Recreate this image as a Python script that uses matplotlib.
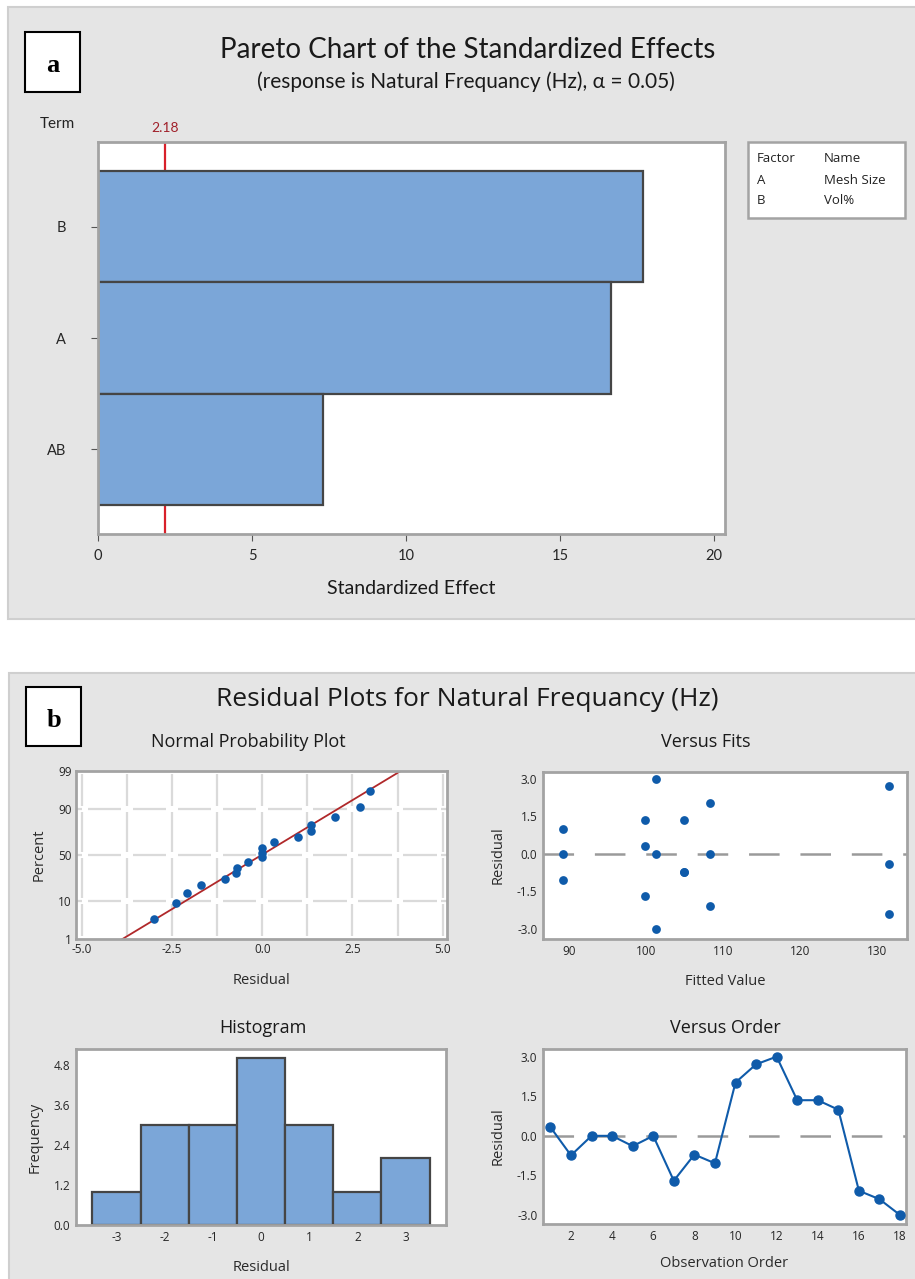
import numpy as np
import matplotlib
matplotlib.use("Agg")
import matplotlib.pyplot as plt
from matplotlib.patches import Rectangle
from statistics import NormalDist

plt.rcParams["lines.scale_dashes"] = False
plt.rcParams["axes.unicode_minus"] = False

W, H = 915, 1279

# ---- Pareto chart data ----
terms = ["B", "A", "AB"]
std_effects = [17.7, 16.65, 7.3]
t_crit = 2.18
factor_codes = ["A", "B"]
factor_names = ["Mesh Size", "Vol%"]
pareto_ticks = [0, 5, 10, 15, 20]

# ---- Residual data (by observation order) ----
observation = list(range(1, 19))
residuals = [0.33, -0.74, 0.0, 0.0, -0.39, 0.0, -1.70, -0.71, -1.04,
             2.02, 2.71, 3.0, 1.35, 1.35, 0.99, -2.08, -2.40, -3.0]
fitted = [99.9, 105.0, 89.3, 101.3, 131.6, 108.4, 99.9, 105.0, 89.3,
          108.4, 131.6, 101.3, 99.9, 105.0, 89.3, 108.4, 131.6, 101.3]
prob_ticks = [1, 10, 50, 90, 99]
prob_xticks = [-5.0, -2.5, 0.0, 2.5, 5.0]
resid_ticks = [-3.0, -1.5, 0.0, 1.5, 3.0]
fit_ticks = [90, 100, 110, 120, 130]
hist_edges = [-3.5, -2.5, -1.5, -0.5, 0.5, 1.5, 2.5, 3.5]
hist_xticks = [-3, -2, -1, 0, 1, 2, 3]
hist_yticks = [0.0, 1.2, 2.4, 3.6, 4.8]
order_ticks = [2, 4, 6, 8, 10, 12, 14, 16, 18]

BAR = "#7BA6D8"
EDGE = "#454545"
FRAME = "#A3A3A3"
PANEL = "#E5E5E5"
BLUE = "#0F5BAA"
TXT = "#2A2A2A"
FONT = "Open Sans"
NARROW = "Lato"

fig = plt.figure(figsize=(W / 100, H / 100), dpi=100)
fig.patch.set_facecolor("white")


def axes_px(x0, y0, x1, y1):
    ax = fig.add_axes([x0 / W, 1 - y1 / H, (x1 - x0) / W, (y1 - y0) / H])
    ax.set_zorder(2)
    return ax


def text_px(x, y, s, **kw):
    kw.setdefault("color", TXT)
    kw.setdefault("zorder", 5)
    return fig.text(x / W, 1 - y / H, s, **kw)


def rect_px(x0, y0, x1, y1, **kw):
    r = Rectangle((x0 / W, 1 - y1 / H), (x1 - x0) / W, (y1 - y0) / H,
                  transform=fig.transFigure, **kw)
    fig.patches.append(r)
    return r


def style_axes(ax, lw=2.0):
    for s in ax.spines.values():
        s.set_color(FRAME)
        s.set_linewidth(lw)
    ax.set_facecolor("white")
    ax.tick_params(colors="#555555", labelcolor="#262626", length=3,
                   width=0.8, labelsize=8.5)
    for lab in ax.get_xticklabels() + ax.get_yticklabels():
        lab.set_fontfamily(FONT)


# ---- background panels ----
rect_px(8, 7, 930, 619, facecolor=PANEL, edgecolor="#CFCFCF", lw=1.5, zorder=-10)
rect_px(9, 673, 930, 1300, facecolor=PANEL, edgecolor="#CFCFCF", lw=1.5, zorder=-10)

# panel letters
for (x0, y0, x1, y1, s) in [(25, 32, 80, 92, "a"), (26, 687, 81, 746, "b")]:
    rect_px(x0, y0, x1, y1, facecolor="white", edgecolor="black", lw=1.5, zorder=4)
    text_px((x0 + x1) / 2, (y0 + y1) / 2 + 4, s, ha="center", va="center",
            fontsize=19, fontweight="bold", family="Liberation Serif",
            color="black", zorder=6)

# ================= Pareto chart =================
text_px(468, 50, "Pareto Chart of the Standardized Effects", ha="center",
        va="center", fontsize=20, family=NARROW, color="#1A1A1A")
text_px(466, 82, "(response is Natural Frequancy (Hz), \u03b1 = 0.05)",
        ha="center", va="center", fontsize=15, family=NARROW, color="#1A1A1A")
text_px(57, 124, "Term", ha="center", va="center", fontsize=11,
        family=NARROW, color="#222222")

axp = axes_px(98, 142, 725, 534)
ypos = np.arange(len(terms))[::-1]
axp.barh(ypos, std_effects, height=1.0, color=BAR, edgecolor=EDGE,
         linewidth=1.6, zorder=2)
axp.axvline(t_crit, color="#D8202A", lw=1.6, zorder=1)
axp.annotate(f"{t_crit:.2f}", xy=(t_crit, 1.0),
             xycoords=("data", "axes fraction"), xytext=(0, 6),
             textcoords="offset points", ha="center", va="bottom",
             fontsize=10, color="#A0202A", family=NARROW)
axp.set_xlim(0, 20.36)
axp.set_ylim(-0.76, 2.76)
axp.set_xticks(pareto_ticks)
axp.set_yticks(ypos)
axp.set_yticklabels(terms)
style_axes(axp)
axp.tick_params(axis="both", labelsize=10.5, length=5, pad=6)
axp.tick_params(axis="y", pad=18)
for lab in axp.get_xticklabels() + axp.get_yticklabels():
    lab.set_fontfamily(NARROW)
axp.set_xlabel("Standardized Effect", fontsize=14, family=NARROW,
               color="#1A1A1A", labelpad=12)

# factor legend
rect_px(748, 142, 905, 218, facecolor="white", edgecolor=FRAME, lw=1.8, zorder=4)
leg_kw = dict(ha="left", va="center", fontsize=9.5, family=FONT,
              color="#222222", zorder=6)
text_px(757, 158, "Factor", **leg_kw)
text_px(824, 158, "Name", **leg_kw)
for i, (c, n) in enumerate(zip(factor_codes, factor_names)):
    yy = 180 + 21 * i
    text_px(757, yy, c, **leg_kw)
    text_px(824, yy, n, **leg_kw)

# ================= Residual plots =================
text_px(467, 700, "Residual Plots for Natural Frequancy (Hz)", ha="center",
        va="center", fontsize=19, family=FONT, color="#1A1A1A")

sub_title_kw = dict(ha="center", va="center", fontsize=13, family=FONT,
                    color="#1A1A1A")
text_px(248, 742, "Normal Probability Plot", **sub_title_kw)
text_px(706, 742, "Versus Fits", **sub_title_kw)
text_px(263, 1028, "Histogram", **sub_title_kw)
text_px(725, 1028, "Versus Order", **sub_title_kw)

lab_kw = dict(fontsize=10.5, family=FONT, color="#2A2A2A")

# --- Normal probability plot ---
nd = NormalDist()
axn = axes_px(76, 771, 447, 939)
res_arr = np.array(residuals)
n = len(res_arr)
sorted_res = np.sort(res_arr)
pct = (np.arange(1, n + 1) - 0.3) / (n + 0.4)
zvals = np.array([nd.inv_cdf(p) for p in pct])
z_ticks = [nd.inv_cdf(p / 100) for p in prob_ticks]
x_grid = np.arange(-5.0, 5.01, 1.25)
ylo, yhi = z_ticks[0], z_ticks[-1]
xlo, xhi = -5.16, 5.12

# grid drawn in segments, leaving a small gap at each crossing
gx, gz = 0.16, 0.08
z_stops = [ylo] + z_ticks[1:-1] + [yhi]
for zt in z_ticks[1:-1]:
    xs = [xlo] + list(x_grid) + [xhi]
    for a, b in zip(xs[:-1], xs[1:]):
        axn.plot([a + gx, b - gx], [zt, zt], color="#DADADA", lw=1.6,
                 solid_capstyle="butt", zorder=1)
for xg in x_grid:
    for a, b in zip(z_stops[:-1], z_stops[1:]):
        axn.plot([xg, xg], [a + gz, b - gz], color="#DADADA", lw=1.6,
                 solid_capstyle="butt", zorder=1)

mu, sd = res_arr.mean(), res_arr.std()
line_x = np.array([mu + sd * (ylo - 0.5), mu + sd * (yhi + 0.5)])
axn.plot(line_x, (line_x - mu) / sd, color="#B0282A", lw=1.3, zorder=2)
axn.scatter(sorted_res, zvals, s=38, color=BLUE, zorder=3, linewidths=0)
axn.set_xlim(xlo, xhi)
axn.set_ylim(ylo, yhi)
axn.set_xticks(prob_xticks)
axn.set_xticklabels([f"{v:.1f}" for v in prob_xticks])
axn.set_yticks(z_ticks)
axn.set_yticklabels([str(p) for p in prob_ticks])
style_axes(axn)
axn.tick_params(length=0, pad=3)
axn.set_xlabel("Residual", labelpad=12, **lab_kw)
axn.set_ylabel("Percent", labelpad=8, **lab_kw)

# --- Versus fits ---
axf = axes_px(543, 772, 907, 939)
axf.axhline(0, color="#9A9A9A", lw=1.8, dashes=(22, 15), zorder=1)
axf.scatter(fitted, residuals, s=40, color=BLUE, zorder=3, linewidths=0)
axf.set_xlim(86.67, 133.9)
axf.set_ylim(-3.4, 3.27)
axf.set_xticks(fit_ticks)
axf.set_yticks(resid_ticks)
axf.set_yticklabels([f"{v:.1f}" for v in resid_ticks])
style_axes(axf)
axf.tick_params(length=0, pad=4)
axf.set_xlabel("Fitted Value", labelpad=12, **lab_kw)
axf.set_ylabel("Residual", labelpad=8, **lab_kw)

# --- Histogram ---
axh = axes_px(76, 1049, 446, 1225)
axh.hist(residuals, bins=hist_edges, color=BAR, edgecolor=EDGE,
         linewidth=1.6, zorder=2)
axh.set_xlim(-3.84, 3.84)
axh.set_ylim(0, 5.28)
axh.set_xticks(hist_xticks)
axh.set_yticks(hist_yticks)
axh.set_yticklabels([f"{v:.1f}" for v in hist_yticks])
style_axes(axh)
axh.tick_params(length=0, pad=4)
axh.set_xlabel("Residual", labelpad=12, **lab_kw)
axh.set_ylabel("Frequency", labelpad=8, **lab_kw)

# --- Versus order ---
axo = axes_px(543, 1049, 906, 1224)
axo.axhline(0, color="#9A9A9A", lw=1.8, dashes=(22, 15), zorder=1)
axo.plot(observation, residuals, color=BLUE, lw=1.5, marker="o",
         markersize=6.5, zorder=3)
axo.set_xlim(0.64, 18.29)
axo.set_ylim(-3.34, 3.29)
axo.set_xticks(order_ticks)
axo.set_yticks(resid_ticks)
axo.set_yticklabels([f"{v:.1f}" for v in resid_ticks])
style_axes(axo)
axo.tick_params(length=0, pad=4)
axo.set_xlabel("Observation Order", labelpad=10, **lab_kw)
axo.set_ylabel("Residual", labelpad=8, **lab_kw)

fig.savefig("out.png", dpi=100)
